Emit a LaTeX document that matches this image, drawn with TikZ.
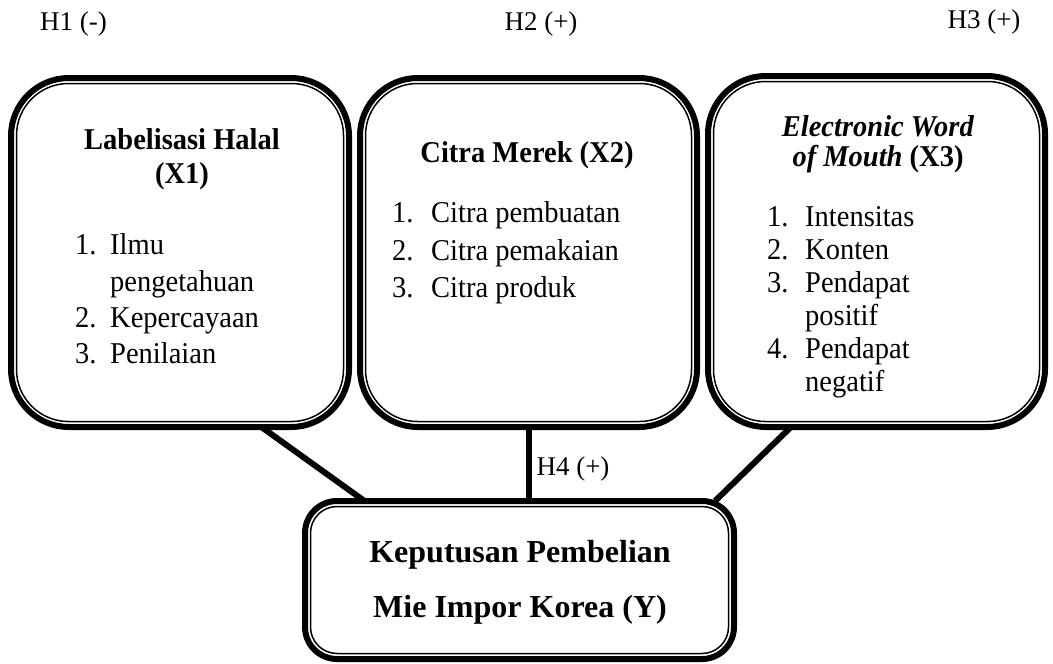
\documentclass[tikz,border=0pt]{standalone}
\usepackage{graphicx}
\usepackage{fontspec}
\setmainfont{Liberation Serif}
\newcommand{\tall}[1]{\scalebox{1}[1.06]{#1}}
\newcommand{\bodysize}{\fontsize{28.5pt}{34.4pt}\selectfont}
\newcommand{\hypsize}{\fontsize{27pt}{27pt}\selectfont}

\begin{document}
\begin{tikzpicture}
[every node/.style={inner sep=0pt},
 dbox/.style 2 args={draw, line width=6pt, outer sep=0pt, rounded corners=#1,
   append after command={\pgfextra{\draw[line width=1.5pt, rounded corners=#2]
     ([shift={(5.5pt,-5.5pt)}]\tikzlastnode.north west) rectangle
     ([shift={(-5.5pt,5.5pt)}]\tikzlastnode.south east);}}},
 link/.style={line width=6pt}]
\useasboundingbox (0pt, 0pt) rectangle (1053pt, -664pt);
\node (h1) [font=\hypsize] at (73.5pt, -24.0pt) {H1 (-)};
\node (h2) [font=\hypsize] at (541.0pt, -24.0pt) {H2 (+)};
\node (h3) [font=\hypsize] at (984.0pt, -22.0pt) {H3 (+)};
\node (x1) [dbox={58pt}{52pt}, minimum width=338pt, minimum height=349pt] at (180.0pt, -252.5pt) {};
\node (x2) [dbox={58pt}{52pt}, minimum width=337pt, minimum height=349pt] at (528.5pt, -252.5pt) {};
\node (x3) [dbox={58pt}{52pt}, minimum width=337pt, minimum height=351pt] at (876.5pt, -251.5pt) {};
\node (y) [dbox={32pt}{26.5pt}, minimum width=429pt, minimum height=158pt] at (519.5pt, -580.0pt) {};
\node (x1head) [font=\fontsize{28.5pt}{33pt}\selectfont\bfseries] at (182.0pt, -159.5pt) {\tall{\begin{tabular}{@{}c@{}}Labelisasi Halal\\(X1)\end{tabular}}};
\node (x1list) [font=\bodysize, anchor=west] at (75.0pt, -302.0pt) {\tall{\begin{tabular}{@{}p{35pt}@{}l@{}}1. & Ilmu\\ & pengetahuan\\ 2. & Kepercayaan\\ 3. & Penilaian\end{tabular}}};
\node (x2head) [font=\bodysize\bfseries] at (527.0pt, -155.0pt) {\tall{Citra Merek (X2)}};
\node (x2list) [font=\fontsize{28.5pt}{35.4pt}\selectfont, anchor=west] at (392.0pt, -252.5pt) {\tall{\begin{tabular}{@{}p{39pt}@{}l@{}}1. & Citra pembuatan\\ 2. & Citra pemakaian\\ 3. & Citra produk\end{tabular}}};
\node (x3head) [font=\fontsize{28.5pt}{25pt}\selectfont\bfseries] at (878.0pt, -145.0pt) {\tall{\begin{tabular}{@{}c@{}}\textit{Electronic Word}\\\textit{of Mouth} (X3)\end{tabular}}};
\node (x3list) [font=\fontsize{28.5pt}{31.1pt}\selectfont, anchor=west] at (767.0pt, -302.5pt) {\tall{\begin{tabular}{@{}p{38pt}@{}l@{}}1. & Intensitas\\ 2. & Konten\\ 3. & Pendapat\\ & positif\\ 4. & Pendapat\\ & negatif\end{tabular}}};
\node (yhead) [font=\fontsize{32pt}{55pt}\selectfont\bfseries, align=center] at (520.0pt, -582.5pt) {Keputusan Pembelian\\Mie Impor Korea (Y)};
\node (h4) [font=\hypsize] at (573.0pt, -469.0pt) {H4 (+)};
\draw [link] (x1.-65) -- (y.153);
\draw [link] (x2.south) -- (x2.south |- y.north);
\draw [link] (x3.-116) -- (y.22.5);
\end{tikzpicture}
\end{document}
